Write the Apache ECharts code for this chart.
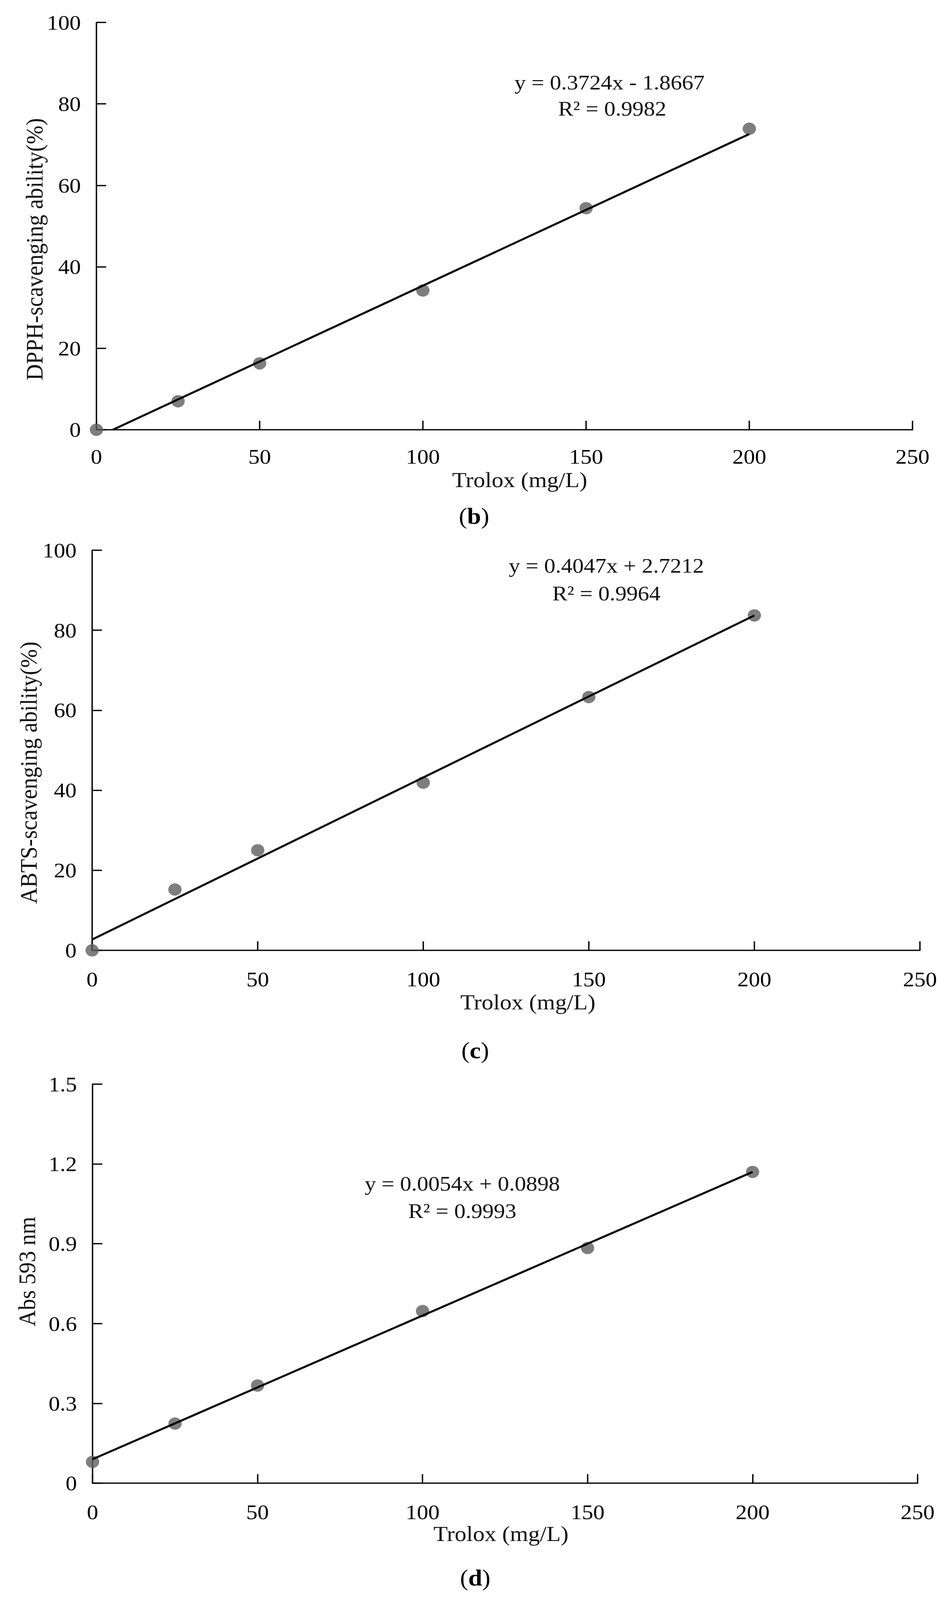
<!DOCTYPE html>
<html>
<head>
<meta charset="utf-8">
<script src="https://cdn.jsdelivr.net/npm/echarts@6/dist/echarts.min.js"></script>
<style>
  html, body { margin: 0; padding: 0; background: #fff; overflow: hidden; }
  #main { width: 2433px; height: 4423px; transform-origin: 0 0; }
</style>
</head>
<body>
<div id="main"></div>
<script>
// Trolox concentrations (mg/L)
var xDose = [0, 25, 50, 100, 150, 200];

// (b) DPPH scavenging ability (%)
var dpphValues = [0, 7.0, 16.3, 34.2, 54.4, 73.9];
var dpphFitX = [5, 200];
var dpphFitY = [0, 72.6];

// (c) ABTS scavenging ability (%)
var abtsValues = [0, 15.2, 25.0, 41.9, 63.3, 83.7];
var abtsFitX = [0, 200];
var abtsFitY = [2.7, 83.7];

// (d) Abs 593 nm (FRAP)
var absValues = [0.080, 0.224, 0.367, 0.647, 0.884, 1.170];
var absFitX = [0, 200];
var absFitY = [0.09, 1.17];

var xTickStep = 50, xMax = 250;
var pctTickStep = 20, pctMax = 100;
var absTickStep = 0.3, absMax = 1.5;

var FONT = 'Liberation Serif';

var dom = document.getElementById('main');
// drawn at 2433x4423, then squeezed to the part of the window that is really visible
var W = window.innerWidth || 2433;
var H = window.innerHeight || 4423;
dom.style.transform = 'scale(' + (W / 2433) + ',' + (H / 4423) + ')';

function pairs(xs, ys) {
  return xs.map(function (x, i) { return [x, ys[i]]; });
}

var myChart = echarts.init(dom, null, { renderer: 'svg', width: 2433, height: 4423 });

function xAxisOf(grid, margin) {
  return {
    type: 'value', gridIndex: grid, min: 0, max: xMax, interval: xTickStep,
    splitLine: { show: false },
    axisLine: { show: true, onZero: false, lineStyle: { color: '#000', width: 3.5 } },
    axisTick: { show: true, inside: true, length: 25, lineStyle: { color: '#000', width: 3.5 } },
    axisLabel: { margin: margin, color: '#000', fontFamily: FONT, fontSize: 58, lineHeight: 50 }
  };
}
function yAxisOf(grid, max, step, fmt) {
  return {
    type: 'value', gridIndex: grid, min: 0, max: max, interval: step,
    splitLine: { show: false },
    axisLine: { show: true, onZero: false, lineStyle: { color: '#000', width: 3.5 } },
    axisTick: { show: true, inside: true, length: 25, lineStyle: { color: '#000', width: 3.5 } },
    axisLabel: { margin: 40, color: '#000', fontFamily: FONT, fontSize: 58, lineHeight: 50, formatter: fmt }
  };
}
function dots(idx, ys) {
  return {
    type: 'scatter', xAxisIndex: idx, yAxisIndex: idx, clip: false,
    symbolSize: 34, itemStyle: { color: '#5e5e5e' },
    data: pairs(xDose, ys), z: 2
  };
}
function fit(idx, xs, ys) {
  return {
    type: 'line', xAxisIndex: idx, yAxisIndex: idx, showSymbol: false, clip: false,
    lineStyle: { color: '#000', width: 5.5 },
    data: pairs(xs, ys), z: 3
  };
}
function txt(x, y, s, size, rot) {
  return {
    type: 'text', x: x, y: y, rotation: rot || 0,
    style: {
      text: s, fill: '#111', fontFamily: FONT, fontSize: size, lineHeight: Math.round(size * 0.85),
      align: 'center', verticalAlign: 'middle'
    }
  };
}
function caption(x, y, letter) {
  return {
    type: 'text', x: x, y: y,
    style: {
      text: '({b|' + letter + '})', fill: '#000', fontFamily: FONT, fontSize: 64,
      align: 'center', verticalAlign: 'middle',
      rich: { b: { fontFamily: FONT, fontSize: 64, fontWeight: 'bold', fill: '#000' } }
    }
  };
}

var option = {
  animation: false,
  backgroundColor: '#fff',
  grid: [
    { left: 247, top: 62, width: 2090, height: 1126, outerBoundsMode: 'none' },
    { left: 236, top: 1521, width: 2120, height: 1106, outerBoundsMode: 'none' },
    { left: 237, top: 2997, width: 2113, height: 1103, outerBoundsMode: 'none' }
  ],
  xAxis: [xAxisOf(0, 49), xAxisOf(1, 55), xAxisOf(2, 55)],
  yAxis: [
    yAxisOf(0, pctMax, pctTickStep),
    yAxisOf(1, pctMax, pctTickStep),
    yAxisOf(2, absMax, absTickStep, function (v) { return v === 0 ? '0' : v.toFixed(1); })
  ],
  series: [
    dots(0, dpphValues), fit(0, dpphFitX, dpphFitY),
    dots(1, abtsValues), fit(1, abtsFitX, abtsFitY),
    dots(2, absValues), fit(2, absFitX, absFitY)
  ],
  graphic: [
    txt(1561, 228, 'y = 0.3724x - 1.8667', 58),
    txt(1568, 300, 'R² = 0.9982', 58),
    txt(88, 689, 'DPPH-scavenging ability(%)', 62, Math.PI / 2),
    txt(1331, 1326, 'Trolox (mg/L)', 60),
    caption(1214, 1426, 'b'),

    txt(1553, 1563, 'y = 0.4047x + 2.7212', 58),
    txt(1553, 1640, 'R² = 0.9964', 58),
    txt(73, 2136, 'ABTS-scavenging ability(%)', 62, Math.PI / 2),
    txt(1352, 2770, 'Trolox (mg/L)', 60),
    caption(1217, 2903, 'c'),

    txt(1184, 3272, 'y = 0.0054x + 0.0898', 58),
    txt(1184, 3347, 'R² = 0.9993', 58),
    txt(69, 3515, 'Abs 593 nm', 62, Math.PI / 2),
    txt(1283, 4240, 'Trolox (mg/L)', 60),
    caption(1217, 4361, 'd')
  ]
};

myChart.setOption(option);
</script>
</body>
</html>
